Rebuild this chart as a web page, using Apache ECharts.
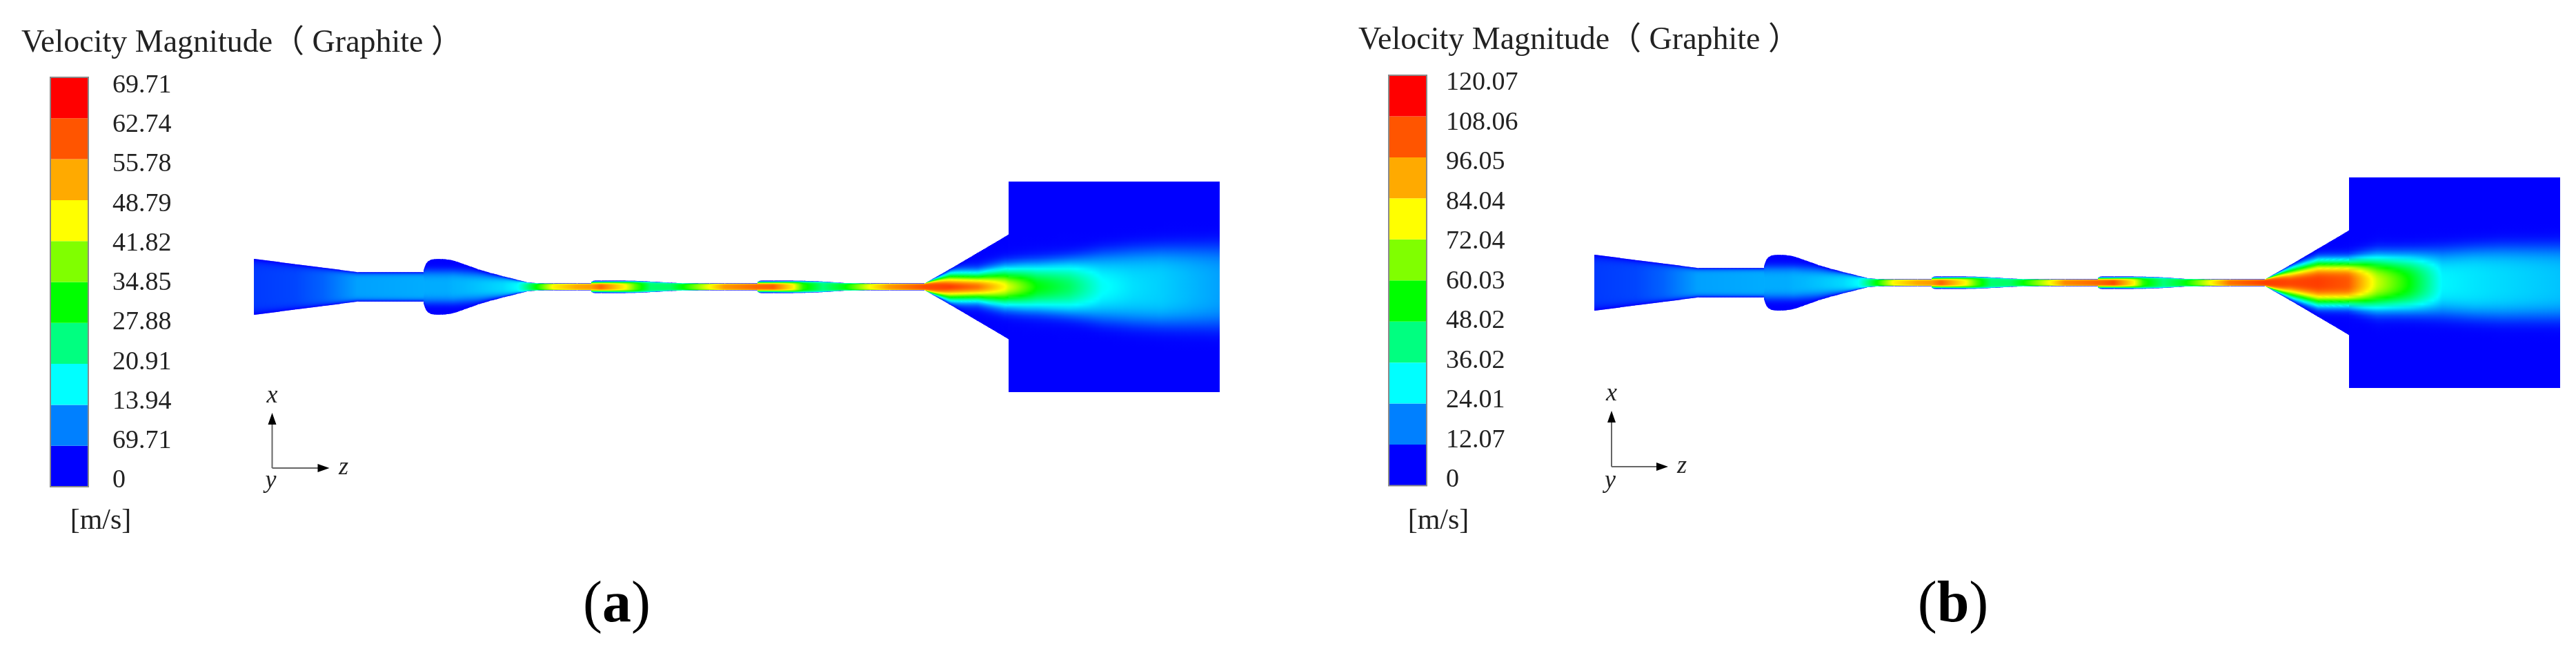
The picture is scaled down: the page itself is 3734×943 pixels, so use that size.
<!DOCTYPE html>
<html><head><meta charset="utf-8">
<style>html,body{margin:0;padding:0;background:#fff;overflow:hidden}#c{width:3734px;height:943px}</style>
<script src="https://cdn.jsdelivr.net/npm/echarts@6/dist/echarts.min.js"></script>
</head><body><div id="c"></div>
<script>
// Legend
const bandColors = ['#0000ff','#0080ff','#00ffff','#00ff80','#00ff00','#80ff00','#ffff00','#ffaa00','#ff5500','#ff0000'];
const labelsA = ['0','69.71','13.94','20.91','27.88','34.85','41.82','48.79','55.78','62.74','69.71'];
const labelsB = ['0','12.07','24.01','36.02','48.02','60.03','72.04','84.04','96.05','108.06','120.07'];
const titleText = 'Velocity Magnitude（ Graphite ）';
// Stations along the duct
const stationZ = [0,60,100,150,246,246.01,248,250,253,257,263,271,280,289,305,325,343,361,382,396,411,434,468,489,489.01,493,503,539,553,575,603,621,660,682,730,730.01,734,753,782,796,825,846,857,893,921,972,1009,1049,1089,1094,1094.01,1135,1182,1229,1275,1315,1400];
const wallHalf = [40.5,32.8,27.7,21.3,21.3,24,30,34.5,37.5,39.5,40.3,40.3,39.6,38,32.5,25.3,20,15.3,10,6.5,5.2,5,5,5,7.5,9,9,8.9,8.7,7.6,6,5.3,5,5,5,7.5,9,9,8.9,8.7,7.6,6.2,5.5,5,5,5,26,49.5,73,76,152.5,152.5,152.5,152.5,152.5,152.5,152.5];
// Core velocity as a fraction of the colour scale
const coreA = [.05,.06,.085,.14,.15,.15,.15,.15,.15,.15,.15,.15,.15,.155,.16,.17,.18,.19,.22,.33,.46,.68,.78,.80,.80,.82,.87,.667,.52,.35,.36,.44,.667,.8,.87,.87,.87,.88,.68,.48,.34,.40,.44,.667,.8,.9,.92,.85,.58,.53,.53,.32,.20,.06,.02,0,0];
const coreB = [.05,.06,.085,.14,.15,.15,.15,.15,.15,.15,.15,.15,.15,.155,.16,.17,.18,.19,.22,.33,.46,.68,.78,.80,.80,.82,.87,.667,.52,.35,.36,.44,.667,.82,.87,.87,.87,.9,.68,.48,.34,.40,.44,.667,.85,.92,.91,.92,.86,.85,.85,.5,.26,.04,0,0,0];
// Core radius and profile sharpness
const coreRadiusA = [48,42,36,27,27,24,24,24,24,24,24,24,24,24,23,22,19,17,13,9,7,7,7,7,7,7,7,8,9,10,8,7,7,7,7,7,7,7,8,9,10,8,7,7,7,7,17.8,18,23,23,23,28,30,30,30,30,30];
const coreRadiusB = [48,42,36,27,27,24,24,24,24,24,24,24,24,24,23,22,19,17,13,9,7,7,7,7,7,7,7,8,9,10,8,7,7,7,7,7,7,7,8,9,10,8,7,7,7,7,20,30,30,30,30,34,34,34,34,34,34];
const sharpA = [6,6,6,6,6,4,4,4,4,4,4,4,4,4,3.5,3,3,3,3,3,4,4,4,4,4,4,4,4,4,4,4,4,4,4,4,4,4,4,4,4,4,4,4,4,4,4,2,2,2,2,2,2,2,2,2,2,2];
const sharpB = [6,6,6,6,6,4,4,4,4,4,4,4,4,4,3.5,3,3,3,3,3,4,4,4,4,4,4,4,4,4,4,4,4,4,4,4,4,4,4,4,4,4,4,4,4,4,4,2.5,3,3.2,3.2,3.2,2.5,2.5,2.5,2.5,2.5,2.5];
// Slow outer plateau of the jet in the diffuser and the chamber (last 11 stations)
const plateauA = [0,0,.09,.10,.10,.12,.16,.17,.175,.18,.14];
const plateauB = [0,0,.03,.03,.03,.12,.18,.175,.2,.19,.17];
const plateauRadiusA = [30,30,36,36,36,37,42,50,54,56,59];
const plateauRadiusB = [30,30,40,40,40,42,44,48,50,52,53];

const hex = s => [1,3,5].map(i => parseInt(s.substr(i,2),16));
const ramp = bandColors.map(hex);
function colorOf(v){
  v = Math.max(0, Math.min(1, v)) * (ramp.length - 1);
  const i = Math.min(ramp.length - 2, Math.floor(v)), t = v - i;
  const c = ramp[i].map((a, k) => Math.round(a + (ramp[i+1][k] - a) * t));
  return 'rgb(' + c.join(',') + ')';
}
const lerp = (a, b, t) => a + (b - a) * t;
function fieldRenderer(core, jet, sharp, plateau, plateauR){
  const first = stationZ.length - plateau.length;
  const pv = i => i < first ? 0 : plateau[i - first];
  const pr = i => i < first ? 30 : plateauR[i - first];
  return function(params, api){
    const i = api.value(1);
    if (i >= stationZ.length - 1) return null;
    const z0 = stationZ[i], z1 = stationZ[i+1];
    if (z1 - z0 < 0.5) return null;
    const n = Math.max(1, Math.ceil((z1 - z0) / 2));
    const children = [];
    for (let s = 0; s < n; s++){
      const a = s / n, b = (s + 1) / n, m = (a + b) / 2;
      const ra = lerp(wallHalf[i], wallHalf[i+1], a), rb = lerp(wallHalf[i], wallHalf[i+1], b);
      const rMax = Math.max(ra, rb), rMid = (ra + rb) / 2;
      const vc = lerp(core[i], core[i+1], m), jr = lerp(jet[i], jet[i+1], m), p = lerp(sharp[i], sharp[i+1], m);
      const vp = lerp(pv(i), pv(i+1), m), rp = lerp(pr(i), pr(i+1), m);
      const wallExp = lerp(24, 8, Math.max(0, Math.min(1, (rMid - 5) / 4)));
      const N = 26, half = [];
      for (let k = 0; k <= N; k++){
        const r = rMax * Math.pow(k / N, 1.5);
        const d = Math.min(1, r / rMid);
        const v = (vc * Math.exp(-Math.pow(r / jr, p)) + vp * Math.exp(-Math.pow(r / rp, 4))) * (1 - Math.pow(d, wallExp));
        half.push([r / rMax, colorOf(v)]);
      }
      const stops = [];
      for (let k = N; k >= 0; k--) stops.push({offset: (1 - half[k][0]) / 2, color: half[k][1]});
      for (let k = 1; k <= N; k++) stops.push({offset: (1 + half[k][0]) / 2, color: half[k][1]});
      const za = lerp(z0, z1, a), zb = lerp(z0, z1, b) + (s < n - 1 ? 1.2 : 0);
      const pts = [api.coord([za, ra]), api.coord([zb, rb]), api.coord([zb, -rb]), api.coord([za, -ra])];
      children.push({type: 'polygon', shape: {points: pts},
        style: {fill: new echarts.graphic.LinearGradient(0, 0, 0, 1, stops)}});
    }
    return {type: 'group', children};
  };
}

const panels = [
  {labels: labelsA, core: coreA, jet: coreRadiusA, sharp: sharpA, plateau: plateauA, plateauR: plateauRadiusA, barL: 73, barT: 112, barH: 593, labT: 124, labH: 572.5, labX: 163,
   fieldL: 368, fieldT: 263, tX: 31, tY: 40, unitX: 146, unitY: 756, o: [394.5, 678], top: 598, right: 477.5, xY: 574, yY: 697, zX: 498, cap: 'a', capX: 894},
  {labels: labelsB, core: coreB, jet: coreRadiusB, sharp: sharpB, plateau: plateauB, plateauR: plateauRadiusB, barL: 2013, barT: 109, barH: 594.5, labT: 120.5, labH: 574.5, labX: 2096,
   fieldL: 2311, fieldT: 257, tX: 1969, tY: 36, unitX: 2085, unitY: 756, o: [2336, 676], top: 595, right: 2418, xY: 571, yY: 697, zX: 2438, cap: 'b', capX: 2831}
];
const font = '"Liberation Serif","Noto Sans CJK SC",serif';
const grids = [], xAxes = [], yAxes = [], series = [], titles = [], graphics = [];
panels.forEach(P => {
  // colour bar
  let g = grids.length;
  grids.push({left: P.barL, top: P.barT, width: 55, height: P.barH});
  xAxes.push({gridIndex: g, type: 'value', min: 0, max: 1, show: false});
  yAxes.push({gridIndex: g, type: 'category', data: bandColors.map((c, i) => 'band' + i), show: false});
  series.push({type: 'bar', xAxisIndex: g, yAxisIndex: g, barWidth: '100%', animation: false, silent: true,
    data: bandColors.map(c => ({value: 1, itemStyle: {color: c}}))});
  graphics.push({type: 'rect', silent: true, z: 10, shape: {x: P.barL, y: P.barT, width: 55, height: P.barH},
    style: {fill: 'none', stroke: '#8a8a8a', lineWidth: 2}});
  // colour bar labels
  g = grids.length;
  grids.push({left: P.barL, top: P.labT, width: 55, height: P.labH});
  xAxes.push({gridIndex: g, type: 'value', min: 0, max: 1, show: false});
  yAxes.push({gridIndex: g, type: 'category', data: P.labels, boundaryGap: false, position: 'right',
    axisLine: {show: false}, axisTick: {show: false}, splitLine: {show: false},
    axisLabel: {interval: 0, margin: P.labX - P.barL - 55, color: '#222', fontFamily: font, fontSize: 38, align: 'left', hideOverlap: false, showMinLabel: true, showMaxLabel: true}});
  // field
  g = grids.length;
  grids.push({left: P.fieldL, top: P.fieldT, width: 1400, height: 305});
  xAxes.push({gridIndex: g, type: 'value', min: 0, max: 1400, show: false});
  yAxes.push({gridIndex: g, type: 'value', min: -152.5, max: 152.5, show: false});
  series.push({type: 'custom', xAxisIndex: g, yAxisIndex: g, coordinateSystem: 'cartesian2d', animation: false, silent: true, clip: false,
    encode: {x: 0, y: 1}, data: stationZ.map((z, i) => [z, i]), renderItem: fieldRenderer(P.core, P.jet, P.sharp, P.plateau, P.plateauR)});
  // texts
  titles.push({text: titleText, left: P.tX, top: P.tY, padding: 0, textStyle: {fontFamily: font, fontWeight: 'normal', fontSize: 46, color: '#222'}});
  titles.push({text: '[m/s]', left: P.unitX, top: P.unitY - 22, padding: 0, textAlign: 'center', textStyle: {fontFamily: font, fontWeight: 'normal', fontSize: 42, color: '#222'}});
  titles.push({text: '{p|(}{b|' + P.cap + '}{p|)}', left: P.capX, top: 836, padding: 0, textAlign: 'center',
    textStyle: {rich: {p: {fontFamily: font, fontSize: 84, fontWeight: 'normal', color: '#000'}, b: {fontFamily: font, fontSize: 84, fontWeight: 'bold', color: '#000'}}}});
  // xyz triad
  const [ox, oy] = P.o;
  graphics.push({type: 'line', silent: true, shape: {x1: ox, y1: oy, x2: ox, y2: P.top + 12}, style: {stroke: '#666', lineWidth: 2}});
  graphics.push({type: 'line', silent: true, shape: {x1: ox, y1: oy, x2: P.right - 12, y2: oy}, style: {stroke: '#666', lineWidth: 2}});
  graphics.push({type: 'polygon', silent: true, shape: {points: [[ox, P.top], [ox - 6, P.top + 17], [ox + 6, P.top + 17]]}, style: {fill: '#000'}});
  graphics.push({type: 'polygon', silent: true, shape: {points: [[P.right, oy], [P.right - 17, oy - 6], [P.right - 17, oy + 6]]}, style: {fill: '#000'}});
  const tStyle = {font: 'italic 36px ' + font, fill: '#222', align: 'center', verticalAlign: 'middle'};
  graphics.push({type: 'text', silent: true, x: ox, y: P.xY, style: Object.assign({text: 'x'}, tStyle)});
  graphics.push({type: 'text', silent: true, x: ox - 2, y: P.yY, style: Object.assign({text: 'y'}, tStyle)});
  graphics.push({type: 'text', silent: true, x: P.zX, y: oy, style: Object.assign({text: 'z'}, tStyle)});
});
const chart = echarts.init(document.getElementById('c'), null, {renderer: 'canvas'});
chart.setOption({backgroundColor: '#fff', animation: false, title: titles, grid: grids, xAxis: xAxes, yAxis: yAxes, series, graphic: graphics, tooltip: {show: false}});
</script></body></html>
